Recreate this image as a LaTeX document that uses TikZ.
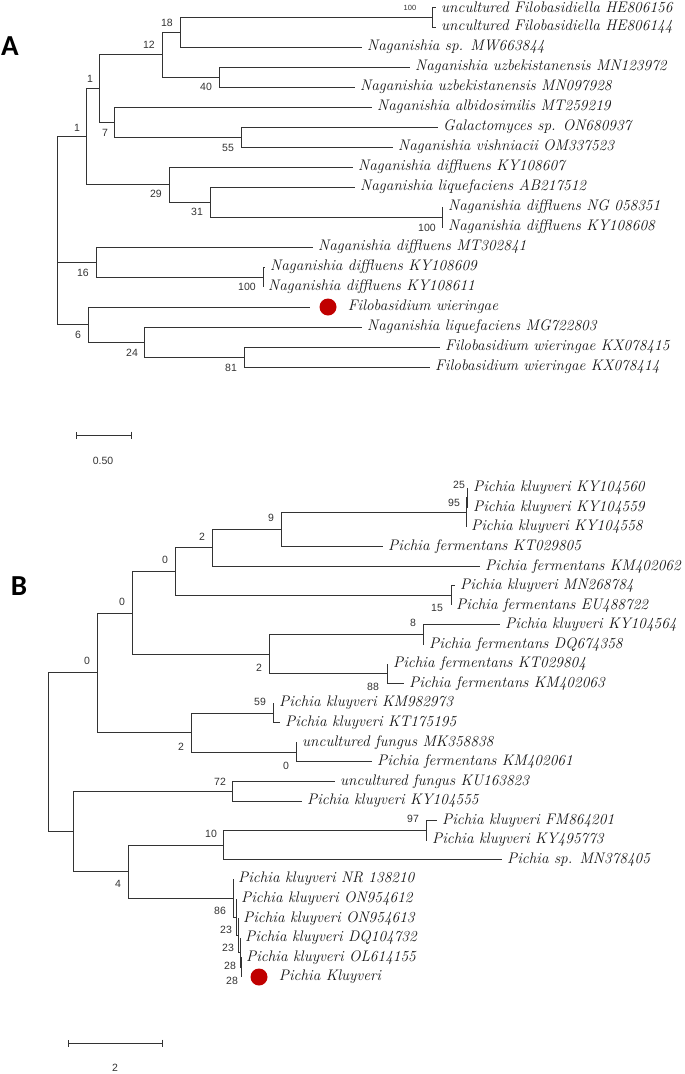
\documentclass[tikz,border=0pt]{standalone}
\usepackage{fontspec}
\newfontfamily\bootfont{Liberation Sans}
\newfontfamily\panelfont{Carlito}
\usetikzlibrary{positioning,arrows.meta}
\definecolor{branchgray}{HTML}{333333}
\definecolor{dotred}{HTML}{C00000}

\begin{document}
\begin{tikzpicture}[x=1pt,y=-1pt]


\tikzset{leaf/.style={anchor=west,inner xsep=5pt,inner ysep=0pt,font=\fontsize{15.3}{17}\selectfont\itshape,text=black!92},}
\tikzset{boot/.style={inner sep=0pt,font=\bootfont\fontsize{10.5}{12}\selectfont,text=black!80},}
\tikzset{bootsmall/.style={inner sep=0pt,font=\bootfont\fontsize{7.5}{9}\selectfont,text=black!80},}
\tikzset{branch/.style={draw=branchgray,line width=1pt},}
\tikzset{dot/.style={circle,fill=dotred,minimum size=17pt,inner sep=0pt},}
\tikzset{panel/.style={inner sep=0pt,font=\panelfont\bfseries\fontsize{29}{32}\selectfont},}
\tikzset{scalebar/.style={branch,{Bar[width=7pt]}-{Bar[width=7pt]}},}

\useasboundingbox (0,0) rectangle (685,1074);

	% tree A
	\draw
		(10,46) node[panel] (pA) {A}
		(436,7) node[leaf] (a1) {uncultured Filobasidiella HE806156}
		(436,27) node[leaf] (a2) {uncultured Filobasidiella HE806144}
		(362,47) node[leaf] (a3) {Naganishia sp. MW663844}
		(410,67) node[leaf] (a4) {Naganishia uzbekistanensis MN123972}
		(355,87) node[leaf] (a5) {Naganishia uzbekistanensis MN097928}
		(372,107) node[leaf] (a6) {Naganishia albidosimilis MT259219}
		(438,127) node[leaf] (a7) {Galactomyces sp. ON680937}
		(393,147) node[leaf] (a8) {Naganishia vishniacii OM337523}
		(353,167) node[leaf] (a9) {Naganishia diffluens KY108607}
		(355,187) node[leaf] (a10) {Naganishia liquefaciens AB217512}
		(443,207) node[leaf] (a11) {Naganishia diffluens NG 058351}
		(443,227) node[leaf] (a12) {Naganishia diffluens KY108608}
		(313,247) node[leaf] (a13) {Naganishia diffluens MT302841}
		(265,267) node[leaf] (a14) {Naganishia diffluens KY108609}
		(263,287) node[leaf] (a15) {Naganishia diffluens KY108611}
		(328,307) node[dot] (a16dot) {}
		(362,327) node[leaf] (a17) {Naganishia liquefaciens MG722803}
		(440,347) node[leaf] (a18) {Filobasidium wieringae KX078415}
		(430,367) node[leaf] (a19) {Filobasidium wieringae KX078414};
	\node[leaf,right=6pt of a16dot] (a16) {Filobasidium wieringae};
	\coordinate (a16tip) at (310,307);

	\path
		(57,230) coordinate (rootA)
		(432,17) coordinate (n100a)
		(180,32) coordinate (n18)
		(219,77) coordinate (n40)
		(162,54.5) coordinate (n12)
		(241,137) coordinate (n55)
		(114,122) coordinate (n7)
		(99,88) coordinate (n1b)
		(442,217) coordinate (n100b)
		(210,202) coordinate (n31)
		(169,184.5) coordinate (n29)
		(86,136) coordinate (n1a)
		(263,277) coordinate (n100c)
		(96,262) coordinate (n16)
		(244,357) coordinate (n81)
		(144,342) coordinate (n24)
		(88,324.5) coordinate (n6);

	\draw[branch](rootA) |- (n1a) (rootA) |- (n16) (rootA) |- (n6);
	\draw[branch](n1a) |- (n1b) (n1a) |- (n29);
	\draw[branch](n1b) |- (n12) (n1b) |- (n7);
	\draw[branch](n12) |- (n18) (n12) |- (n40);
	\draw[branch](n18) |- (n100a) (n18) |- (a3);
	\draw[branch](n100a) |- (a1) (n100a) |- (a2);
	\draw[branch](n40) |- (a4) (n40) |- (a5);
	\draw[branch](n7) |- (a6) (n7) |- (n55);
	\draw[branch](n55) |- (a7) (n55) |- (a8);
	\draw[branch](n29) |- (a9) (n29) |- (n31);
	\draw[branch](n31) |- (a10) (n31) |- (n100b);
	\draw[branch](n100b) |- (a11) (n100b) |- (a12);
	\draw[branch](n16) |- (a13) (n16) |- (n100c);
	\draw[branch](n100c) |- (a14) (n100c) |- (a15);
	\draw[branch](n6) |- (a16tip) (n6) |- (n24);
	\draw[branch](n24) |- (a17) (n24) |- (n81);
	\draw[branch](n81) |- (a18) (n81) |- (a19);

	\draw
		(410,8) node[bootsmall] (s100a) {100}
		(167,23) node[boot] (s18) {18}
		(149,45) node[boot] (s12) {12}
		(206,87) node[boot] (s40) {40}
		(90,79) node[boot] (s1b) {1}
		(105,133) node[boot] (s7) {7}
		(228,148) node[boot] (s55) {55}
		(77,128) node[boot] (s1a) {1}
		(156,194) node[boot] (s29) {29}
		(197,212) node[boot] (s31) {31}
		(427,228) node[boot] (s100b) {100}
		(83,273) node[boot] (s16) {16}
		(247,287) node[boot] (s100c) {100}
		(78,335) node[boot] (s6) {6}
		(132,353) node[boot] (s24) {24}
		(231,368) node[boot] (s81) {81};

	\path (76,435) coordinate (barA0) (132,435) coordinate (barA1);
	\draw[scalebar](barA0) -- (barA1);
	\draw(103,461) node[boot] (barAlabel) {0.50};

	% tree B
	\draw
		(19,586) node[panel] (pB) {B}
		(468,488) node[leaf] (b0) {Pichia kluyveri KY104560}
		(468,507.6) node[leaf] (b1) {Pichia kluyveri KY104559}
		(466,527.1) node[leaf] (b2) {Pichia kluyveri KY104558}
		(383,546.7) node[leaf] (b3) {Pichia fermentans KT029805}
		(480,566.2) node[leaf] (b4) {Pichia fermentans KM402062}
		(455,585.8) node[leaf] (b5) {Pichia kluyveri MN268784}
		(451,605.4) node[leaf] (b6) {Pichia fermentans EU488722}
		(500,624.9) node[leaf] (b7) {Pichia kluyveri KY104564}
		(424,644.5) node[leaf] (b8) {Pichia fermentans DQ674358}
		(388,664) node[leaf] (b9) {Pichia fermentans KT029804}
		(404,683.6) node[leaf] (b10) {Pichia fermentans KM402063}
		(274,703.2) node[leaf] (b11) {Pichia kluyveri KM982973}
		(280,722.7) node[leaf] (b12) {Pichia kluyveri KT175195}
		(297,742.3) node[leaf] (b13) {uncultured fungus MK358838}
		(372,761.8) node[leaf] (b14) {Pichia fermentans KM402061}
		(335,781.4) node[leaf] (b15) {uncultured fungus KU163823}
		(302,801) node[leaf] (b16) {Pichia kluyveri KY104555}
		(437,820.5) node[leaf] (b17) {Pichia kluyveri FM864201}
		(427,840.1) node[leaf] (b18) {Pichia kluyveri KY495773}
		(502,859.6) node[leaf] (b19) {Pichia sp. MN378405}
		(233,879.2) node[leaf] (b20) {Pichia kluyveri NR 138210}
		(236,898.8) node[leaf] (b21) {Pichia kluyveri ON954612}
		(238,918.3) node[leaf] (b22) {Pichia kluyveri ON954613}
		(240,937.9) node[leaf] (b23) {Pichia kluyveri DQ104732}
		(241,957.4) node[leaf] (b24) {Pichia kluyveri OL614155}
		(259,977) node[dot] (b25dot) {};
	\node[leaf,right=6pt of b25dot] (b25) {Pichia Kluyveri};
	\coordinate (b25tip) at (241,977);

	\path
		(48,752) coordinate (rootB)
		(467,497.8) coordinate (m25)
		(466,512.5) coordinate (m95)
		(281,529.6) coordinate (m9)
		(212,547.9) coordinate (m2a)
		(451,595.6) coordinate (m15)
		(175,571.8) coordinate (m0a)
		(423,634.7) coordinate (m8)
		(387,673.8) coordinate (m88)
		(269,654.3) coordinate (m2b)
		(132,613) coordinate (m0b)
		(273,713) coordinate (m59)
		(296,752) coordinate (m0d)
		(191,732.5) coordinate (m2c)
		(97,672.8) coordinate (m0c)
		(232,791.2) coordinate (m72)
		(426,830.3) coordinate (m97)
		(223,845) coordinate (m10)
		(241,967.2) coordinate (m28b)
		(240,952.6) coordinate (m28a)
		(238,935.5) coordinate (m23b)
		(236,917.1) coordinate (m23a)
		(233,898.2) coordinate (m86)
		(128,871.6) coordinate (m4)
		(73,831.4) coordinate (mX);

	\draw[branch](rootB) |- (m0c) (rootB) |- (mX);
	\draw[branch](m0c) |- (m0b) (m0c) |- (m2c);
	\draw[branch](m0b) |- (m0a) (m0b) |- (m2b);
	\draw[branch](m0a) |- (m2a) (m0a) |- (m15);
	\draw[branch](m2a) |- (m9) (m2a) |- (b4);
	\draw[branch](m9) |- (m95) (m9) |- (b3);
	\draw[branch](m95) |- (m25) (m95) |- (b2);
	\draw[branch](m25) |- (b0) (m25) |- (b1);
	\draw[branch](m15) |- (b5) (m15) |- (b6);
	\draw[branch](m2b) |- (m8) (m2b) |- (m88);
	\draw[branch](m8) |- (b7) (m8) |- (b8);
	\draw[branch](m88) |- (b9) (m88) |- (b10);
	\draw[branch](m2c) |- (m59) (m2c) |- (m0d);
	\draw[branch](m59) |- (b11) (m59) |- (b12);
	\draw[branch](m0d) |- (b13) (m0d) |- (b14);
	\draw[branch](mX) |- (m72) (mX) |- (m4);
	\draw[branch](m72) |- (b15) (m72) |- (b16);
	\draw[branch](m4) |- (m10) (m4) |- (m86);
	\draw[branch](m10) |- (m97) (m10) |- (b19);
	\draw[branch](m97) |- (b17) (m97) |- (b18);
	\draw[branch](m86) |- (b20) (m86) |- (m23a);
	\draw[branch](m23a) |- (b21) (m23a) |- (m23b);
	\draw[branch](m23b) |- (b22) (m23b) |- (m28a);
	\draw[branch](m28a) |- (b23) (m28a) |- (m28b);
	\draw[branch](m28b) |- (b24) (m28b) |- (b25tip);

	\draw
		(459,485) node[boot] (t25) {25}
		(454,503) node[boot] (t95) {95}
		(271,518) node[boot] (t9) {9}
		(202,537) node[boot] (t2a) {2}
		(165,560) node[boot] (t0a) {0}
		(437,608) node[boot] (t15) {15}
		(122,602) node[boot] (t0b) {0}
		(87,661) node[boot] (t0c) {0}
		(413,623) node[boot] (t8) {8}
		(259,668) node[boot] (t2b) {2}
		(373,687) node[boot] (t88) {88}
		(260,702) node[boot] (t59) {59}
		(181,747) node[boot] (t2c) {2}
		(286,766) node[boot] (t0d) {0}
		(220,782) node[boot] (t72) {72}
		(211,834) node[boot] (t10) {10}
		(413,819) node[boot] (t97) {97}
		(118,884) node[boot] (t4) {4}
		(220,911) node[boot] (t86) {86}
		(226,930) node[boot] (t23a) {23}
		(228,948) node[boot] (t23b) {23}
		(230,966) node[boot] (t28a) {28}
		(232,981) node[boot] (t28b) {28};

	\path (68,1043) coordinate (barB0) (163,1043) coordinate (barB1);
	\draw[scalebar](barB0) -- (barB1);
	\draw(115,1068) node[boot] (barBlabel) {2};

\end{tikzpicture}
\end{document}
